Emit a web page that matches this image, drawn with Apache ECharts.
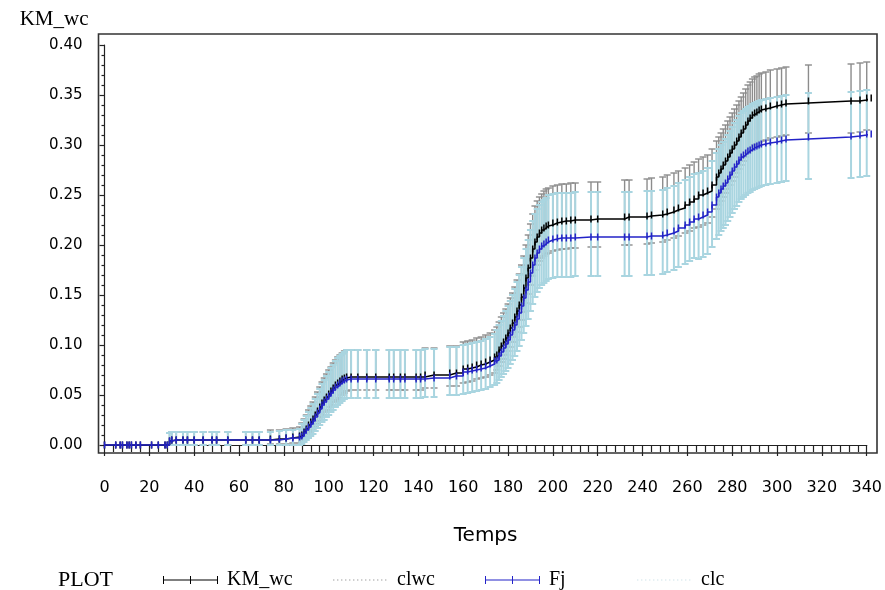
<!DOCTYPE html>
<html>
<head>
<meta charset="utf-8">
<title>KM_wc</title>
<script src="https://cdn.jsdelivr.net/npm/echarts@6.0.0/dist/echarts.min.js"></script>
<style>
html, body { margin: 0; padding: 0; background: #fff; }
#main { width: 885px; height: 590px; }
</style>
</head>
<body>
<div id="main"></div>
<script>
// event times (Temps)
var times = [
	0, 5, 7, 8, 10, 11, 12, 14, 16, 21, 24, 27, 28,
	29, 30, 32, 35, 37, 40, 44, 48, 50, 55, 63, 66, 69, 74, 78, 81, 84, 87,
	88, 89, 90, 91, 92, 93, 94, 95, 96, 97, 98, 99, 100, 101, 102, 103, 104, 105, 106, 107, 108,
	110, 113, 117, 121, 127, 129, 132, 134, 139, 141, 143, 147, 154, 157, 160, 162, 164, 166, 168, 170, 172, 174,
	175, 176, 177, 178, 179, 180, 181, 182, 183, 184, 185, 186, 187, 188, 189, 190, 191, 192, 193, 194, 195, 196, 197, 198,
	200, 202, 204, 206, 208, 210, 217, 220, 232, 234, 242, 244, 249, 251, 254, 256, 259, 261, 263,
	265, 267, 269, 271, 273, 274, 275, 276, 277, 278, 279, 280, 281, 282, 283, 284, 285, 286, 287, 288, 289, 290, 291, 292, 293, 295, 297, 300, 302, 304, 314, 333, 337, 340, 342
];
var kmWc = [
	0, 0, 0, 0, 0, 0, 0, 0, 0, 0, 0, 0, 0,
	0.004, 0.005, 0.005, 0.005, 0.005, 0.005, 0.005, 0.005, 0.005, 0.005, 0.005, 0.005, 0.005, 0.006, 0.006, 0.007, 0.008, 0.009,
	0.010, 0.013, 0.016, 0.020, 0.023, 0.026, 0.030, 0.034, 0.038, 0.042, 0.045, 0.048, 0.051, 0.054, 0.057, 0.060, 0.062, 0.064, 0.066, 0.067, 0.068,
	0.068, 0.068, 0.068, 0.068, 0.068, 0.068, 0.068, 0.068, 0.068, 0.068, 0.070, 0.070, 0.072, 0.072, 0.076, 0.077, 0.078, 0.080, 0.081, 0.083, 0.085, 0.088,
	0.090, 0.095, 0.099, 0.103, 0.107, 0.112, 0.117, 0.122, 0.128, 0.134, 0.140, 0.148, 0.157, 0.167, 0.177, 0.187, 0.196, 0.203, 0.208, 0.212, 0.215, 0.217, 0.219, 0.220,
	0.222, 0.223, 0.224, 0.224, 0.225, 0.225, 0.226, 0.226, 0.228, 0.228, 0.229, 0.230, 0.231, 0.233, 0.235, 0.237, 0.240, 0.243, 0.246,
	0.250, 0.252, 0.254, 0.260, 0.268, 0.272, 0.276, 0.280, 0.284, 0.288, 0.292, 0.296, 0.300, 0.304, 0.308, 0.312, 0.316, 0.320, 0.324, 0.327, 0.330, 0.332, 0.333, 0.335, 0.336, 0.337, 0.339, 0.340, 0.341, 0.342, 0.344, 0.344, 0.345, 0.347, 0.347
];
var fj = [
	0, 0, 0, 0, 0, 0, 0, 0, 0, 0, 0, 0, 0,
	0.004, 0.005, 0.005, 0.005, 0.005, 0.005, 0.005, 0.005, 0.005, 0.005, 0.005, 0.005, 0.005, 0.005, 0.006, 0.007, 0.007, 0.008,
	0.009, 0.012, 0.015, 0.018, 0.021, 0.024, 0.028, 0.032, 0.036, 0.040, 0.043, 0.046, 0.049, 0.052, 0.055, 0.058, 0.060, 0.062, 0.064, 0.065, 0.066,
	0.066, 0.066, 0.066, 0.066, 0.066, 0.066, 0.066, 0.066, 0.066, 0.066, 0.067, 0.067, 0.069, 0.069, 0.073, 0.074, 0.075, 0.076, 0.077, 0.079, 0.081, 0.084,
	0.085, 0.089, 0.093, 0.097, 0.101, 0.105, 0.110, 0.115, 0.120, 0.126, 0.132, 0.139, 0.147, 0.155, 0.163, 0.172, 0.180, 0.187, 0.192, 0.196, 0.199, 0.201, 0.203, 0.205,
	0.206, 0.207, 0.207, 0.207, 0.207, 0.208, 0.208, 0.208, 0.208, 0.208, 0.209, 0.209, 0.210, 0.212, 0.214, 0.217, 0.220, 0.223, 0.226,
	0.228, 0.230, 0.233, 0.240, 0.248, 0.252, 0.256, 0.259, 0.262, 0.266, 0.270, 0.274, 0.278, 0.281, 0.285, 0.288, 0.290, 0.292, 0.294, 0.295, 0.297, 0.298, 0.299, 0.300, 0.301, 0.302, 0.303, 0.304, 0.305, 0.306, 0.308, 0.309, 0.310, 0.311, 0.311
];
// confidence limits of KM_wc
var clwcLow = [
	0, 0, 0, 0, 0, 0, 0, 0, 0, 0, 0, 0, 0,
	0, 0, 0, 0, 0, 0, 0, 0, 0, 0, 0, 0, 0, 0.001, 0.001, 0.001, 0.002, 0.002,
	0.004, 0.006, 0.008, 0.011, 0.013, 0.015, 0.018, 0.021, 0.024, 0.028, 0.030, 0.033, 0.035, 0.038, 0.040, 0.043, 0.045, 0.047, 0.050, 0.052, 0.054,
	0.055, 0.055, 0.055, 0.055, 0.055, 0.055, 0.055, 0.055, 0.055, 0.055, 0.057, 0.057, 0.059, 0.059, 0.062, 0.063, 0.064, 0.066, 0.067, 0.068, 0.070, 0.072,
	0.075, 0.079, 0.083, 0.086, 0.090, 0.094, 0.098, 0.103, 0.108, 0.113, 0.118, 0.125, 0.133, 0.142, 0.151, 0.160, 0.169, 0.175, 0.180, 0.184, 0.187, 0.189, 0.191, 0.192,
	0.194, 0.195, 0.196, 0.196, 0.197, 0.197, 0.198, 0.198, 0.200, 0.200, 0.201, 0.202, 0.203, 0.205, 0.207, 0.209, 0.212, 0.214, 0.217,
	0.218, 0.220, 0.222, 0.228, 0.236, 0.240, 0.244, 0.248, 0.252, 0.256, 0.260, 0.264, 0.268, 0.272, 0.276, 0.280, 0.284, 0.288, 0.292, 0.295, 0.298, 0.300, 0.301, 0.303, 0.304, 0.305, 0.307, 0.308, 0.309, 0.310, 0.312, 0.312, 0.313, 0.315, 0.347
];
var clwcHigh = [
	0, 0, 0, 0, 0, 0, 0, 0, 0, 0, 0, 0, 0,
	0.012, 0.013, 0.013, 0.013, 0.013, 0.013, 0.013, 0.013, 0.013, 0.013, 0.013, 0.013, 0.013, 0.015, 0.015, 0.016, 0.017, 0.018,
	0.022, 0.026, 0.030, 0.035, 0.039, 0.043, 0.048, 0.053, 0.058, 0.063, 0.067, 0.071, 0.075, 0.078, 0.082, 0.085, 0.088, 0.090, 0.092, 0.094, 0.095,
	0.095, 0.095, 0.095, 0.095, 0.095, 0.095, 0.095, 0.095, 0.095, 0.095, 0.097, 0.097, 0.099, 0.099, 0.103, 0.104, 0.105, 0.107, 0.108, 0.110, 0.112, 0.115,
	0.118, 0.123, 0.128, 0.132, 0.136, 0.141, 0.147, 0.152, 0.158, 0.165, 0.171, 0.180, 0.189, 0.200, 0.210, 0.221, 0.231, 0.239, 0.244, 0.248, 0.251, 0.254, 0.256, 0.257,
	0.259, 0.260, 0.261, 0.261, 0.262, 0.262, 0.263, 0.263, 0.265, 0.265, 0.266, 0.267, 0.268, 0.270, 0.272, 0.274, 0.277, 0.280, 0.283,
	0.286, 0.288, 0.290, 0.296, 0.304, 0.308, 0.312, 0.316, 0.320, 0.324, 0.328, 0.332, 0.336, 0.340, 0.344, 0.348, 0.352, 0.356, 0.360, 0.363, 0.366, 0.368, 0.369, 0.371, 0.372, 0.373, 0.375, 0.376, 0.377, 0.378, 0.380, 0.381, 0.382, 0.383, 0.347
];
// confidence limits of Fj
var clcLow = [
	0, 0, 0, 0, 0, 0, 0, 0, 0, 0, 0, 0, 0,
	0, 0, 0, 0, 0, 0, 0, 0, 0, 0, 0, 0, 0, 0, 0, 0, 0, 0,
	0.001, 0.003, 0.005, 0.007, 0.009, 0.011, 0.014, 0.017, 0.020, 0.023, 0.025, 0.028, 0.030, 0.033, 0.035, 0.038, 0.040, 0.042, 0.044, 0.046, 0.047,
	0.047, 0.047, 0.047, 0.047, 0.047, 0.047, 0.047, 0.047, 0.047, 0.047, 0.048, 0.048, 0.050, 0.050, 0.051, 0.052, 0.053, 0.054, 0.055, 0.056, 0.058, 0.060,
	0.062, 0.065, 0.068, 0.071, 0.074, 0.077, 0.081, 0.085, 0.089, 0.094, 0.099, 0.105, 0.112, 0.119, 0.126, 0.134, 0.141, 0.148, 0.153, 0.157, 0.160, 0.162, 0.164, 0.166,
	0.167, 0.168, 0.168, 0.168, 0.168, 0.169, 0.169, 0.169, 0.169, 0.169, 0.170, 0.170, 0.171, 0.173, 0.175, 0.178, 0.181, 0.184, 0.187,
	0.186, 0.188, 0.191, 0.198, 0.206, 0.210, 0.214, 0.217, 0.220, 0.224, 0.228, 0.232, 0.236, 0.239, 0.243, 0.246, 0.248, 0.250, 0.252, 0.253, 0.255, 0.256, 0.257, 0.258, 0.259, 0.260, 0.261, 0.262, 0.263, 0.264, 0.266, 0.267, 0.268, 0.269, 0.311
];
var clcHigh = [
	0, 0, 0, 0, 0, 0, 0, 0, 0, 0, 0, 0, 0,
	0.012, 0.013, 0.013, 0.013, 0.013, 0.013, 0.013, 0.013, 0.013, 0.013, 0.013, 0.013, 0.013, 0.013, 0.014, 0.015, 0.015, 0.016,
	0.021, 0.025, 0.029, 0.033, 0.037, 0.041, 0.046, 0.051, 0.056, 0.061, 0.065, 0.069, 0.073, 0.077, 0.080, 0.084, 0.087, 0.089, 0.091, 0.093, 0.095,
	0.095, 0.095, 0.095, 0.095, 0.095, 0.095, 0.095, 0.095, 0.095, 0.095, 0.096, 0.096, 0.098, 0.098, 0.100, 0.101, 0.102, 0.103, 0.104, 0.106, 0.108, 0.111,
	0.115, 0.120, 0.124, 0.129, 0.134, 0.139, 0.144, 0.150, 0.156, 0.163, 0.170, 0.178, 0.187, 0.196, 0.205, 0.215, 0.224, 0.231, 0.236, 0.240, 0.243, 0.245, 0.247, 0.250,
	0.251, 0.252, 0.252, 0.252, 0.252, 0.253, 0.253, 0.253, 0.253, 0.253, 0.254, 0.254, 0.255, 0.257, 0.259, 0.262, 0.265, 0.268, 0.271,
	0.272, 0.274, 0.277, 0.284, 0.292, 0.296, 0.300, 0.303, 0.306, 0.310, 0.314, 0.318, 0.322, 0.325, 0.329, 0.332, 0.334, 0.336, 0.338, 0.339, 0.341, 0.342, 0.343, 0.344, 0.345, 0.346, 0.347, 0.348, 0.349, 0.350, 0.352, 0.353, 0.354, 0.355, 0.311
];
// axes
var xMin = 0, xMax = 340, xStep = 20;
var yMin = 0, yMax = 0.40, yStep = 0.05;

var sansFont = 'DejaVu Sans';
var serifFont = 'Liberation Serif';

function pairs(vals) {
	return times.map(function (t, i) { return [t, vals[i]]; });
}
function bars(lo, hi) {
	return times.map(function (t, i) { return [t, lo[i], hi[i]]; });
}

// vertical bar with caps between two limits
function errorBar(color, width) {
	return function (params, api) {
		var lo = api.value(1), hi = api.value(2);
		if (hi - lo < 0.001) {
			return;
		}
		var top = api.coord([api.value(0), hi]);
		var bot = api.coord([api.value(0), lo]);
		var cap = 3.5;
		var style = { stroke: color, lineWidth: width };
		return {
			type: 'group',
			children: [
				{ type: 'line', shape: { x1: top[0], y1: top[1], x2: bot[0], y2: bot[1] }, style: style },
				{ type: 'line', shape: { x1: top[0] - cap, y1: top[1], x2: top[0] + cap, y2: top[1] }, style: style },
				{ type: 'line', shape: { x1: bot[0] - cap, y1: bot[1], x2: bot[0] + cap, y2: bot[1] }, style: style }
			]
		};
	};
}

// legend samples, drawn in a 55x10 box
var boxCorners = 'M0,0h0.01v0.01h-0.01z M54.99,9.99h0.01v0.01h-0.01z';
var tickIcon = 'path://' + boxCorners + ' M0,4.5h55v1h-55z M0,1h1v8h-1z M27,1h1v8h-1z M54,1h1v8h-1z';
var dotIcon = 'path://' + boxCorners;
for (var d = 0; d < 54; d += 4) {
	dotIcon += ' M' + d + ',4.5h1.4v1h-1.4z';
}

var myChart = echarts.init(document.getElementById('main'));

var legendBase = {
	top: 565,
	itemWidth: 55,
	itemHeight: 10,
	itemGap: 0,
	selectedMode: false,
	itemStyle: { borderWidth: 0 },
	textStyle: { fontFamily: serifFont, fontSize: 20, color: '#000', padding: [0, 0, 0, 4] }
};
function legendAt(left, item) {
	return Object.assign({}, legendBase, { left: left, data: [item] });
}

var option = {
	animation: false,
	backgroundColor: '#fff',
	grid: [
		{ left: 104.5, right: 15, top: 45, bottom: 145 },
		{ left: 98.5, right: 8, top: 34, bottom: 137, show: true, borderColor: '#333', borderWidth: 1.6, backgroundColor: 'transparent' }
	],
	xAxis: [{
		gridIndex: 0,
		type: 'value',
		min: xMin,
		max: xMax,
		interval: xStep,
		offset: 8,
		name: 'Temps',
		nameLocation: 'middle',
		nameGap: 73,
		nameTextStyle: { fontFamily: sansFont, fontSize: 20, color: '#000' },
		axisLine: { lineStyle: { color: '#222', width: 1.2 } },
		axisTick: { length: 11, lineStyle: { color: '#222', width: 1.2 } },
		minorTick: { show: true, splitNumber: 5, length: 7, lineStyle: { color: '#222', width: 1.2 } },
		axisLabel: { margin: 27, fontFamily: sansFont, fontSize: 16, color: '#000' },
		splitLine: { show: false }
	}, {
		gridIndex: 1, type: 'value', show: false
	}],
	yAxis: [{
		gridIndex: 0,
		type: 'value',
		min: yMin,
		max: yMax,
		interval: yStep,
		offset: 6,
		name: 'KM_wc',
		nameLocation: 'end',
		nameGap: 15,
		nameTextStyle: { fontFamily: serifFont, fontSize: 21, color: '#000', align: 'right', padding: [0, 16, 0, 0] },
		axisLine: { lineStyle: { color: '#222', width: 1.2 } },
		axisTick: { length: 5, lineStyle: { color: '#222', width: 1.2 } },
		minorTick: { show: true, splitNumber: 5, length: 3, lineStyle: { color: '#222', width: 1.2 } },
		axisLabel: {
			margin: 16,
			fontFamily: sansFont,
			fontSize: 15,
			color: '#000',
			formatter: function (v) { return v.toFixed(2); }
		},
		splitLine: { show: false }
	}, {
		gridIndex: 1, type: 'value', show: false
	}],
	graphic: [{
		type: 'text',
		left: 58,
		top: 569,
		style: { text: 'PLOT', font: '22px "Liberation Serif"', fill: '#000' }
	}],
	legend: [
		legendAt(158, { name: 'KM_wc', icon: tickIcon }),
		legendAt(328, { name: 'clwc', icon: dotIcon }),
		legendAt(480, { name: 'Fj', icon: tickIcon }),
		legendAt(632, { name: 'clc', icon: dotIcon, itemStyle: { color: '#cfe3ea' } })
	],
	series: [{
		name: 'clwc',
		type: 'custom',
		xAxisIndex: 0,
		yAxisIndex: 0,
		renderItem: errorBar('#8c8c8c', 1.4),
		encode: { x: 0, y: [1, 2] },
		itemStyle: { color: '#a0a0a0' },
		data: bars(clwcLow, clwcHigh),
		z: 2
	}, {
		name: 'clc',
		type: 'custom',
		xAxisIndex: 0,
		yAxisIndex: 0,
		renderItem: errorBar('#a9d5e0', 2),
		encode: { x: 0, y: [1, 2] },
		itemStyle: { color: '#a9d5e0' },
		data: bars(clcLow, clcHigh),
		z: 3
	}, {
		name: 'KM_wc',
		type: 'line',
		step: 'end',
		clip: false,
		data: pairs(kmWc),
		symbol: 'rect',
		symbolSize: [1.5, 7],
		showAllSymbol: true,
		itemStyle: { color: '#000' },
		lineStyle: { color: '#000', width: 1.5 },
		emphasis: { disabled: true },
		z: 4
	}, {
		name: 'Fj',
		type: 'line',
		step: 'end',
		clip: false,
		data: pairs(fj),
		symbol: 'rect',
		symbolSize: [1.5, 7],
		showAllSymbol: true,
		itemStyle: { color: '#2323c8' },
		lineStyle: { color: '#2323c8', width: 1.5 },
		emphasis: { disabled: true },
		z: 5
	}]
};
myChart.setOption(option);
</script>
</body>
</html>
